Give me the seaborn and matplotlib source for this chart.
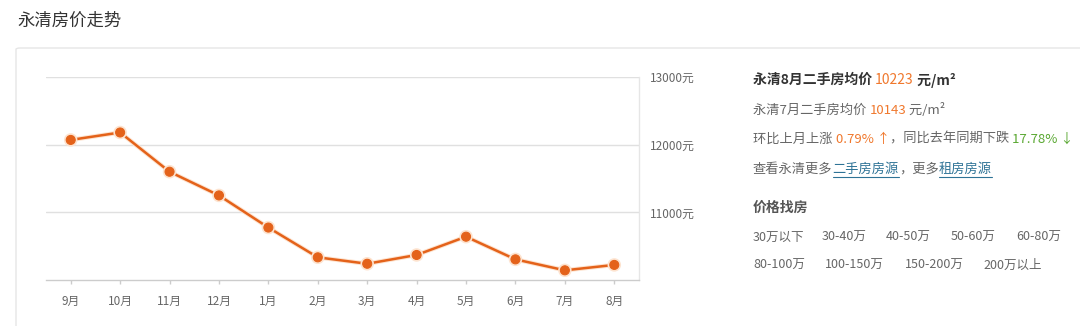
import matplotlib
matplotlib.use("Agg")
import matplotlib.pyplot as plt
import matplotlib.patheffects as pe
from matplotlib.patches import FancyBboxPatch
import seaborn as sns
import pandas as pd

# ---------------- data ----------------
months = ["9月", "10月", "11月", "12月", "1月", "2月", "3月", "4月", "5月", "6月", "7月", "8月"]
prices = [12070, 12180, 11600, 11250, 10775, 10335, 10240, 10370, 10640, 10305, 10143, 10223]
ytick_values = [11000, 12000, 13000]
ytick_labels = ["11000元", "12000元", "13000元"]
title_text = "永清房价走势"
cur_label, cur_value, cur_unit = "永清8月二手房均价 ", "10223", " 元/m²"
prev_label, prev_value, prev_unit = "永清7月二手房均价 ", "10143", " 元/m²"
mom_label, mom_value, yoy_label, yoy_value = "环比上月上涨 ", "0.79% ↑", "，同比去年同期下跌 ", "17.78% ↓"
more_parts = ["查看永清更多", "二手房房源", "，更多", "租房房源"]
price_heading = "价格找房"
price_row1 = ["30万以下", "30-40万", "40-50万", "50-60万", "60-80万"]
price_row2 = ["80-100万", "100-150万", "150-200万", "200万以上"]

# ---------------- style ----------------
sns.set_theme(style="white")
plt.rcParams["font.family"] = ["Noto Sans CJK SC", "DejaVu Sans"]

W, H = 1080, 326
fig = plt.figure(figsize=(W / 100, H / 100), dpi=100)
fig.patch.set_facecolor("white")

def fx(px):
    return px / W

def fy(py):
    return 1 - py / H

# card border
card = FancyBboxPatch((fx(16), fy(400)), fx(1200), 352 / H,
                      boxstyle="round,pad=0,rounding_size=0.004",
                      transform=fig.transFigure, facecolor="none",
                      edgecolor="#e6e6e6", linewidth=1.0, zorder=-5)
fig.patches.append(card)

fig.text(fx(17), fy(21), title_text, fontsize=12.5, color="#333333",
         va="center", ha="left")

# ---------------- chart ----------------
ax = fig.add_axes([fx(46), fy(280), fx(639 - 46), (280 - 77) / H])
ax.set_zorder(2)
ax.set_facecolor("none")
df = pd.DataFrame({"month": months, "price": prices})
orange = "#e4621a"
sns.lineplot(data=df, x="month", y="price", ax=ax, color=orange, linewidth=1.8,
             marker="o", markersize=6.5, markeredgecolor=orange,
             markerfacecolor=orange, sort=False, zorder=5,
             path_effects=[pe.Stroke(linewidth=3.2, foreground="#fde3cf"), pe.Normal()])
ax.set_xlim(-0.5, len(months) - 0.5)
ax.set_ylim(10000, 13000)
ax.set_xlabel("")
ax.set_ylabel("")

ax.yaxis.tick_right()
ax.set_yticks(ytick_values)
ax.set_yticklabels(ytick_labels)
ax.tick_params(axis="y", length=0, pad=8, labelsize=8.5, labelcolor="#666666")
ax.yaxis.grid(True, color="#e0e0e0", linewidth=1.0)
ax.xaxis.grid(False)

ax.set_xticks(range(len(months)))
ax.set_xticklabels(months)
ax.tick_params(axis="x", length=3, width=1, color="#cccccc", pad=8,
               labelsize=8.5, labelcolor="#666666", direction="out")
ax.tick_params(axis="x", bottom=True)

for s in ["top", "left"]:
    ax.spines[s].set_visible(False)
ax.spines["bottom"].set_color("#cccccc")
ax.spines["bottom"].set_linewidth(1.0)
ax.spines["right"].set_color("#e6e6e6")
ax.spines["right"].set_linewidth(1.0)

# ---------------- right panel ----------------
renderer = fig.canvas.get_renderer()

def seg_text(x, y, segments, size):
    for s, color, underline, weight in segments:
        t = fig.text(fx(x), fy(y), s, fontsize=size, color=color,
                     fontweight=weight, va="center", ha="left")
        bb = t.get_window_extent(renderer)
        if underline:
            fig.add_artist(plt.Line2D([fx(x), fx(x + bb.width)], [fy(y + 8), fy(y + 8)],
                                      transform=fig.transFigure, color=color, linewidth=0.8))
        x += bb.width

gray = "#666666"
dark = "#333333"
num_orange = "#f0782d"
green = "#5aa832"
link = "#2e7396"

seg_text(753, 80, [(cur_label, dark, False, "bold"), (cur_value, num_orange, False, "normal"),
                   (cur_unit, dark, False, "bold")], 10)
seg_text(753, 110, [(prev_label, gray, False, "normal"), (prev_value, num_orange, False, "normal"),
                    (prev_unit, gray, False, "normal")], 9.5)
seg_text(753, 139, [(mom_label, gray, False, "normal"), (mom_value, num_orange, False, "normal"),
                    (yoy_label, gray, False, "normal"), (yoy_value, green, False, "normal")], 9.5)
seg_text(753, 169, [(more_parts[0], gray, False, "normal"), (more_parts[1], link, True, "normal"),
                    (more_parts[2], gray, False, "normal"), (more_parts[3], link, True, "normal")], 9.5)

fig.text(fx(753), fy(208), price_heading, fontsize=10, fontweight="bold",
         color="#555555", va="center", ha="left")
row1_x = [753, 822, 886, 951, 1016]
row2_x = [753, 825, 905, 983]
for lbl, x in zip(price_row1, row1_x):
    fig.text(fx(x), fy(237), lbl, fontsize=9, color=gray, va="center", ha="left")
for lbl, x in zip(price_row2, row2_x):
    fig.text(fx(x), fy(265), lbl, fontsize=9, color=gray, va="center", ha="left")

fig.savefig("out.png", dpi=100, facecolor="white")
